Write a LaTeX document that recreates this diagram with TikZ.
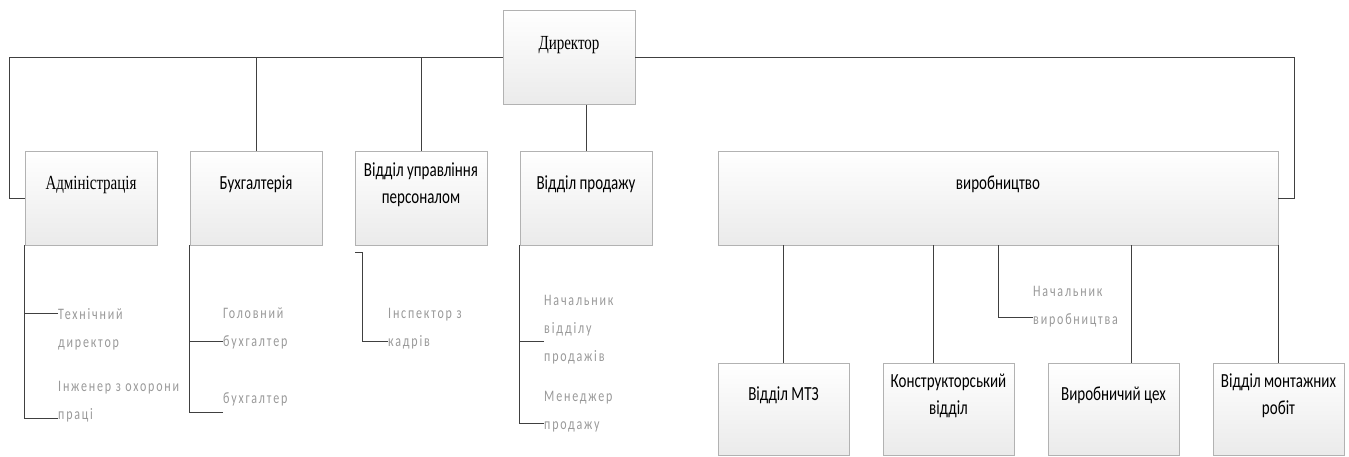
\documentclass[tikz,border=0pt]{standalone}
\usepackage{fontspec}
\usepackage{graphicx}
\setmainfont{Liberation Serif}
\newfontfamily\calfont{Carlito}
\newfontfamily\notefont{Carlito}[LetterSpace=15]
\usetikzlibrary{positioning}
\newcommand{\boxtext}[1]{\scalebox{0.75}[1]{\begin{tabular}{@{}c@{}}#1\\ \mbox{}\end{tabular}}}
\newcommand{\notetext}[1]{\scalebox{0.75}[1]{\begin{tabular}{@{}l@{}}#1\end{tabular}}}
\tikzset{unit/.style={draw=black!30, line width=0.9pt, top color=white, bottom color=black!8,
    minimum width=132pt, minimum height=94pt, inner sep=0pt,
    font=\fontsize{20}{27}\selectfont\calfont},
serifunit/.style={unit, font=\fontsize{20}{27}\selectfont\rmfamily},
lowunit/.style={unit, minimum width=131pt, minimum height=92pt},
note/.style={anchor=west, inner sep=0pt, text=black!40, font=\fontsize{16}{28}\selectfont\notefont},
conn/.style={draw=black!75, line width=0.9pt}
}

\begin{document}
\begin{tikzpicture}[x=1pt, y=-1pt, node distance=165pt, on grid]
        \useasboundingbox (0,0) rectangle (1349,457);
        \node[serifunit] (dir)  at (569,57.5)    {\boxtext{Директор}};
        \node[serifunit] (adm)  at (91,198)      {\boxtext{Адміністрація}};
        \node[unit]      (buh)  [right =of adm]  {\boxtext{Бухгалтерія}};
        \node[unit]      (pers) [right =of buh]  {\boxtext{Відділ управління\\персоналом}};
        \node[unit]      (prod) [right =of pers] {\boxtext{Відділ продажу}};
        \node[unit, minimum width=560pt] (vyr) at (998,198) {\boxtext{виробництво}};

        \node[lowunit] (mtz)  at (783.5,409)    {\boxtext{Відділ МТЗ}};
        \node[lowunit] (kons) [right =of mtz]  {\boxtext{Конструкторський\\відділ}};
        \node[lowunit] (tseh) [right =of kons] {\boxtext{Виробничий цех}};
        \node[lowunit] (mont) [right =of tseh] {\boxtext{Відділ монтажних\\робіт}};

        \node[note] (tech)   at (58,327.5) {\notetext{Технічний\\директор}};
        \node[note] (inzh)   at (58,400)   {\notetext{Інженер з охорони\\праці}};
        \node[note] (golbuh) at (223,327)  {\notetext{Головний\\бухгалтер}};
        \node[note] (buhg)   at (223,398)  {\notetext{бухгалтер}};
        \node[note] (insp)   at (388,327)  {\notetext{Інспектор з\\кадрів}};
        \node[note] (nach)   at (544,328)  {\notetext{Начальник\\відділу\\продажів}};
        \node[note] (men)    at (544,410)  {\notetext{Менеджер\\продажу}};
        \node[note] (nachv)  at (1033,305) {\notetext{Начальник\\виробництва}};

        \draw[conn] (dir.west) -| ([xshift=-15pt]adm.west) -- (adm.west);
        \draw[conn] (dir.east) -| ([xshift=16pt]vyr.east) -- (vyr.east);
        \draw[conn] (buh.north |- dir.west) -- (buh.north);
        \draw[conn] (pers.north |- dir.west) -- (pers.north);
        \draw[conn] (prod.north |- dir.south) -- (prod.north);

        \draw[conn] (mtz.north |- vyr.south) -- (mtz.north);
        \draw[conn] ([xshift=-15pt]kons.north |- vyr.south) -- ([xshift=-15pt]kons.north);
        \draw[conn] ([xshift=18pt]tseh.north |- vyr.south) -- ([xshift=18pt]tseh.north);
        \draw[conn] (mont.north |- vyr.south) -- (mont.north);

        \draw[conn] ([yshift=14.5pt]tech.west) -| (adm.south west);
        \draw[conn] ([yshift=-18pt]inzh.west) -| (adm.south west);
        \draw[conn] ([yshift=-14pt]golbuh.west) -| (buh.south west);
        \draw[conn] ([yshift=-14pt]buhg.west) -| (buh.south west);
        \draw[conn] ([yshift=-14pt]insp.west) -| ([xshift=8pt,yshift=-7pt]pers.south west) -- ([yshift=-7pt]pers.south west);
        \draw[conn] ([yshift=-13pt]nach.west) -| (prod.south west);
        \draw[conn] ([yshift=-13pt]men.west) -| (prod.south west);
        \draw[conn] ([yshift=-12pt]nachv.west) -| (vyr.south);
\end{tikzpicture}
\end{document}
